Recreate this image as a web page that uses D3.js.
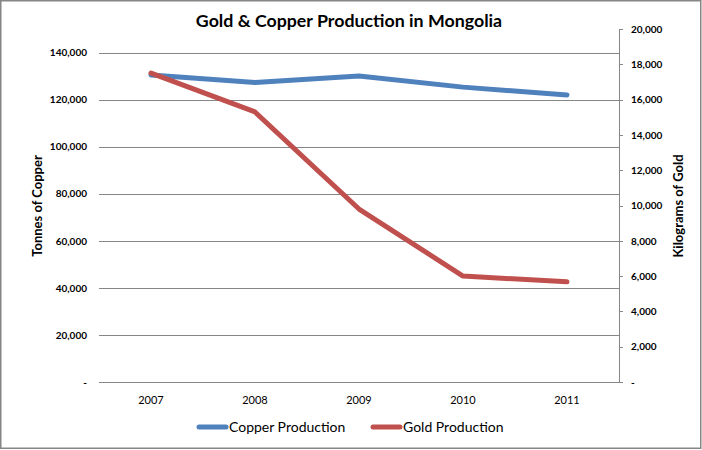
<!DOCTYPE html>
<html><head><meta charset="utf-8">
<script src="https://cdn.jsdelivr.net/npm/d3@7"></script>
<style>body{margin:0;background:#fff}svg{display:block}text{font-family:Lato,"Open Sans",sans-serif}</style>
</head><body>
<script>
const years = ["2007","2008","2009","2010","2011"];
const copper = [130500, 127300, 130000, 125300, 122000];
const gold = [17500, 15300, 9800, 6000, 5680];
const leftTicks = [0,20000,40000,60000,80000,100000,120000,140000];
const rightTicks = [0,2000,4000,6000,8000,10000,12000,14000,16000,18000,20000];

const W=702,H=450;
const svg=d3.select("body").append("svg").attr("width",W).attr("height",H);
svg.append("rect").attr("x",0.75).attr("y",0.75).attr("width",700).attr("height",447.5)
  .attr("fill","#fff").attr("stroke","#868686").attr("stroke-width",1.5);

const x0=99,x1=619,yTop=29,yBot=382;
const x=d3.scaleBand().domain(years).range([x0,x1]);
const yL=d3.scaleLinear().domain([0,150000]).range([yBot,yTop]);
const yR=d3.scaleLinear().domain([0,20000]).range([yBot,yTop]);
const fmt=v=>v===0?"-":d3.format(",")(v);
const grid="#868686";

// left axis (gridlines + labels)
const gl=svg.append("g").attr("transform",`translate(${x0},0)`)
  .call(d3.axisLeft(yL).tickValues(leftTicks).tickFormat(fmt).tickSize(-(x1-x0)).tickPadding(12));
gl.select(".domain").remove();
gl.selectAll(".tick line").attr("stroke",grid).attr("shape-rendering","crispEdges");
gl.selectAll(".tick text").attr("font-size",10).attr("font-weight","bold").attr("fill","#000");

// right axis
const gr=svg.append("g").attr("transform",`translate(${x1},0)`)
  .call(d3.axisRight(yR).tickValues(rightTicks).tickFormat(fmt).tickSizeOuter(0).tickSizeInner(4).tickPadding(8));
gr.select(".domain").attr("stroke",grid).attr("shape-rendering","crispEdges");
gr.selectAll(".tick line").attr("stroke",grid).attr("shape-rendering","crispEdges");
gr.selectAll(".tick text").attr("font-size",10).attr("font-weight","bold").attr("fill","#000");

// bottom axis
const gb=svg.append("g").attr("transform",`translate(0,${yBot})`)
  .call(d3.axisBottom(x).tickSize(0).tickPadding(14));
gb.select(".domain").attr("stroke",grid).attr("shape-rendering","crispEdges");
gb.selectAll(".tick text").attr("font-size",11).attr("fill","#000");

// lines
const cx=d=>x(d)+x.bandwidth()/2;
const lineC=d3.line().x((d,i)=>cx(years[i])).y(d=>yL(d));
const lineG=d3.line().x((d,i)=>cx(years[i])).y(d=>yR(d));
svg.append("path").datum(copper).attr("d",lineC).attr("fill","none").attr("stroke","#4F81BD")
  .attr("stroke-width",5).attr("stroke-linejoin","round").attr("stroke-linecap","round");
svg.append("path").datum(gold).attr("d",lineG).attr("fill","none").attr("stroke","#C0504D")
  .attr("stroke-width",5).attr("stroke-linejoin","round").attr("stroke-linecap","round");

// title
svg.append("text").attr("x",349).attr("y",27).attr("text-anchor","middle")
  .attr("font-size",17.8).attr("font-weight","bold").text("Gold & Copper Production in Mongolia");

// axis titles
svg.append("text").attr("transform","translate(42,206) rotate(-90)").attr("text-anchor","middle")
  .attr("font-size",13).attr("font-weight","bold").text("Tonnes of Copper");
svg.append("text").attr("transform","translate(683,206) rotate(-90)").attr("text-anchor","middle")
  .attr("font-size",13).attr("font-weight","bold").text("Kilograms of Gold");

// legend
const legend=[{name:"Copper Production",color:"#4F81BD",x:199},{name:"Gold Production",color:"#C0504D",x:373}];
const lg=svg.append("g");
legend.forEach(l=>{
  lg.append("line").attr("x1",l.x).attr("x2",l.x+27).attr("y1",427).attr("y2",427)
    .attr("stroke",l.color).attr("stroke-width",5).attr("stroke-linecap","round");
  lg.append("text").attr("x",l.x+30).attr("y",432).attr("font-size",14).attr("fill","#000").text(l.name);
});
</script>
</body></html>
